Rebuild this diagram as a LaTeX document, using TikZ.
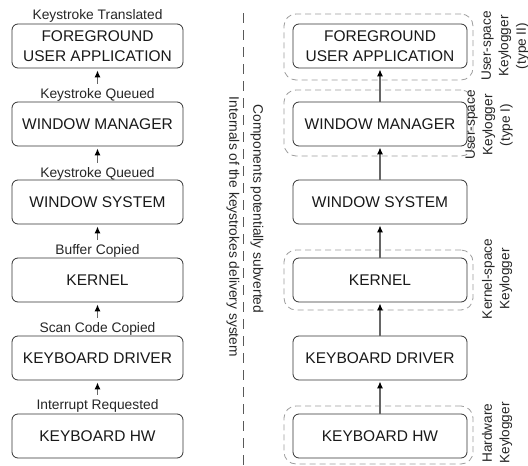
\documentclass[tikz,border=0pt]{standalone}
\usepackage{fontspec}
\setmainfont{Liberation Sans}
\usetikzlibrary{arrows.meta}
\begin{document}
\begin{tikzpicture}[x=1pt,y=-1pt,
  stage/.style={draw=black!80, line width=0.8pt, rounded corners=6pt,
    minimum width=171pt, minimum height=44pt, align=center, inner sep=0pt,
    text=black!90, font=\fontsize{15.5}{20}\selectfont},
  stageR/.style={stage, minimum width=174pt},
  zone/.style={draw=black!38, dash pattern=on 6pt off 4pt, line width=0.8pt,
    rounded corners=12pt, minimum width=189pt, inner sep=0pt},
  evt/.style={font=\fontsize{13.8}{16}\selectfont, anchor=base, inner sep=0pt, text=black!85},
  side/.style={font=\fontsize{13.6}{17.5}\selectfont, rotate=90, align=center,
    inner sep=0pt, text=black!85},
  colnote/.style={font=\fontsize{13.8}{16}\selectfont, rotate=-90, inner sep=1pt,
    fill=white, text=black!85},
  divider/.style={draw=black!65, line width=0.8pt, dash pattern=on 10pt off 7pt},
  flow/.style={draw=black!60, line width=1.2pt,
    -{Latex[length=7pt,width=6pt,color=black]}},
]
\fill[white] (0,0) rectangle (528,466);
\useasboundingbox (0,0) rectangle (528,466);

% ---- left column: delivery chain with event labels ----
\node[evt]   (t1) at (97.5,19.8)  {Keystroke Translated};
\node[stage] (b1) at (97.5,46)    {FOREGROUND\\USER APPLICATION};
\node[evt]   (t2) at (97.5,98.8)  {Keystroke Queued};
\node[stage] (b2) at (97.5,124)   {WINDOW MANAGER};
\node[evt]   (t3) at (97.5,177.8) {Keystroke Queued};
\node[stage] (b3) at (97.5,202)   {WINDOW SYSTEM};
\node[evt]   (t4) at (97.5,254.8) {Buffer Copied};
\node[stage] (b4) at (97.5,280)   {KERNEL};
\node[evt]   (t5) at (97.5,332.8) {Scan Code Copied};
\node[stage] (b5) at (97.5,358)   {KEYBOARD DRIVER};
\node[evt]   (t6) at (97.5,409.8) {Interrupt Requested};
\node[stage] (b6) at (97.5,436)   {KEYBOARD HW};

\foreach \lbl/\upper in {t2/b1,t3/b2,t4/b3,t5/b4,t6/b5}
  \draw[flow, shorten <=5pt, shorten >=2pt] (\lbl.north) -- (\upper.south);

% ---- divider and column captions ----
\coordinate (dtop) at (243,13);
\coordinate (dbot) at (243,466);
\draw[divider] (dtop) -- (dbot);
\node[colnote] (n1) at (233,227) {Internals of the keystrokes delivery system};
\node[colnote] (n2) at (257,209) {Components potentially subverted};

% ---- right column: subverted components ----
\node[zone, minimum height=66pt] (z1) at (378.5,47)  {};
\node[zone, minimum height=66pt] (z2) at (378.5,123) {};
\node[zone, minimum height=60pt] (z4) at (378.5,280) {};
\node[zone, minimum height=58pt] (z6) at (378.5,435) {};

\node[stageR] (r1) at (380,46)  {FOREGROUND\\USER APPLICATION};
\node[stageR] (r2) at (380,124) {WINDOW MANAGER};
\node[stageR] (r3) at (380,202) {WINDOW SYSTEM};
\node[stageR] (r4) at (380,280) {KERNEL};
\node[stageR] (r5) at (380,358) {KEYBOARD DRIVER};
\node[stageR] (r6) at (380,436) {KEYBOARD HW};

\foreach \lo/\hi in {r2/r1,r3/r2,r4/r3,r5/r4,r6/r5}
  \draw[flow, shorten >=1pt] (\lo.north) -- (\hi.south);

\node[side] (k1) at (505,46)  {User-space\\Keylogger\\(type II)};
\node[side] (k2) at (489,125) {User-space\\Keylogger\\(type I)};
\node[side] (k4) at (497,279) {Kernel-space\\Keylogger};
\node[side] (k6) at (497,433) {Hardware\\Keylogger};
\end{tikzpicture}
\end{document}
